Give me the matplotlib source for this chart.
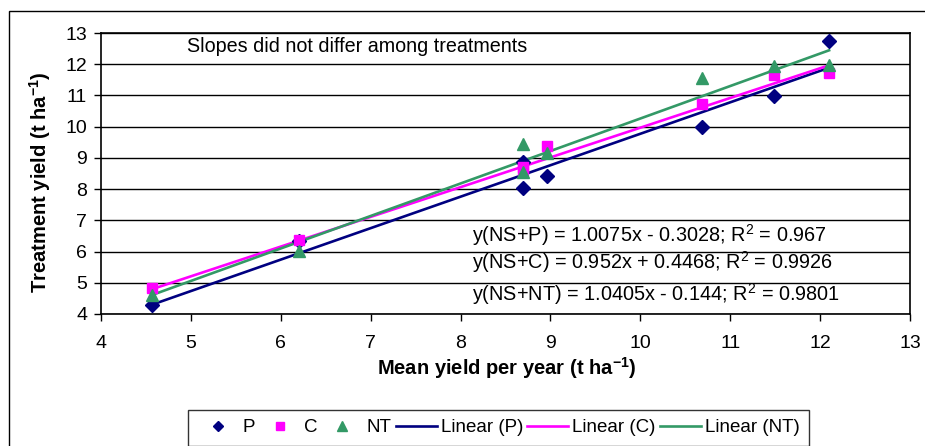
import matplotlib
matplotlib.use("Agg")
import matplotlib.pyplot as plt
from matplotlib.patches import Rectangle
from matplotlib.lines import Line2D
import numpy as np

plt.rcParams['font.family'] = ['Liberation Sans', 'DejaVu Sans']
plt.rcParams['mathtext.default'] = 'regular'

# Mean yield per year (x) and treatment yields
mean_yield = [4.57, 6.20, 8.69, 8.69, 8.96, 10.69, 11.49, 12.10]
yield_p = [4.28, 6.33, 8.04, 8.88, 8.42, 10.00, 10.98, 12.74]
yield_c = [4.82, 6.37, 8.62, 8.72, 9.39, 10.71, 11.65, 11.71]
yield_nt = [4.60, 6.01, 9.46, 8.55, 9.17, 11.55, 11.94, 11.97]

# Fitted regression coefficients (slope, intercept)
fit_p = (1.0075, -0.3028)
fit_c = (0.952, 0.4468)
fit_nt = (1.0405, -0.144)
r2_p, r2_c, r2_nt = 0.967, 0.9926, 0.9801

x_ticks = [4, 5, 6, 7, 8, 9, 10, 11, 12, 13]
y_ticks = [4, 5, 6, 7, 8, 9, 10, 11, 12, 13]

navy = '#000080'
magenta = '#FF00FF'
green = '#339966'

W, H = 925, 446
fig = plt.figure(figsize=(W / 100, H / 100), dpi=100)

# chart area border
fig.patches.append(Rectangle((9 / W, 0 - 0.05), 1.1, 1 - 11 / H + 0.05,
                             transform=fig.transFigure, fill=False,
                             edgecolor='black', linewidth=1.0))

left, right, top, bottom = 101, 910, 33, 314
ax = fig.add_axes([left / W, 1 - bottom / H, (right - left) / W, (bottom - top) / H])
ax.set_xlim(4, 13)
ax.set_ylim(4, 13)
ax.set_xticks(x_ticks)
ax.set_yticks(y_ticks)
ax.yaxis.grid(True, color='black', linewidth=1.0)
ax.set_axisbelow(True)
for s in ax.spines.values():
    s.set_color('black')
    s.set_linewidth(1.2)
ax.tick_params(axis='both', direction='out', length=5, width=1.0, colors='black', labelsize=14)
ax.tick_params(axis='y', pad=5)
ax.tick_params(axis='x', pad=10)

xs = np.array([min(mean_yield), max(mean_yield)])
ax.plot(xs, fit_p[0] * xs + fit_p[1], color=navy, lw=1.9, zorder=3)
ax.plot(xs, fit_c[0] * xs + fit_c[1], color=magenta, lw=1.9, zorder=3)
ax.plot(xs, fit_nt[0] * xs + fit_nt[1], color=green, lw=1.9, zorder=3)

ax.plot(mean_yield, yield_p, linestyle='none', marker='D', color=navy, markersize=7, zorder=4)
ax.plot(mean_yield, yield_c, linestyle='none', marker='s', color=magenta, markersize=6.8, zorder=4)
ax.plot(mean_yield, yield_nt, linestyle='none', marker='^', color=green, markersize=8, zorder=4)

fig.text(187 / W, 1 - 46 / H, 'Slopes did not differ among treatments', fontsize=14.2,
         va='center', ha='left')


def eq_text(name, fit, r2):
    sign = '-' if fit[1] < 0 else '+'
    return f'y(NS+{name}) = {fit[0]:g}x {sign} {abs(fit[1]):g}; R$^2$ = {r2:g}'


for (name, fit, r2), yp in zip([('P', fit_p, r2_p), ('C', fit_c, r2_c), ('NT', fit_nt, r2_nt)],
                               [235, 262, 294]):
    fig.text(472 / W, 1 - yp / H, eq_text(name, fit, r2), fontsize=14.3, va='center', ha='left')

fig.text(40 / W, 1 - 182 / H, 'Treatment yield (t ha$^{-1}$)', rotation=90, fontsize=14.5,
         fontweight='bold', va='center', ha='center')
fig.text(507 / W, 1 - 368 / H, 'Mean yield per year (t ha$^{-1}$)', fontsize=14.5,
         fontweight='bold', va='center', ha='center')

handles = [
    Line2D([], [], linestyle='none', marker='D', color=navy, markersize=5),
    Line2D([], [], linestyle='none', marker='s', color=magenta, markersize=6),
    Line2D([], [], linestyle='none', marker='^', color=green, markersize=6.5),
    Line2D([], [], color=navy, lw=1.9),
    Line2D([], [], color=magenta, lw=1.9),
    Line2D([], [], color=green, lw=1.9),
]
labels = ['P', 'C', 'NT', 'Linear (P)', 'Linear (C)', 'Linear (NT)']
leg = fig.legend(handles, labels, loc='upper left', bbox_to_anchor=(188 / W, 1 - 410 / H),
                 ncol=6, fontsize=13.5, frameon=True, fancybox=False, handlelength=2.2,
                 handletextpad=0.2, columnspacing=0.22, borderpad=0.5, borderaxespad=0)
leg.get_frame().set_edgecolor('black')
leg.get_frame().set_linewidth(1.0)

fig.savefig('out.png', dpi=100)
